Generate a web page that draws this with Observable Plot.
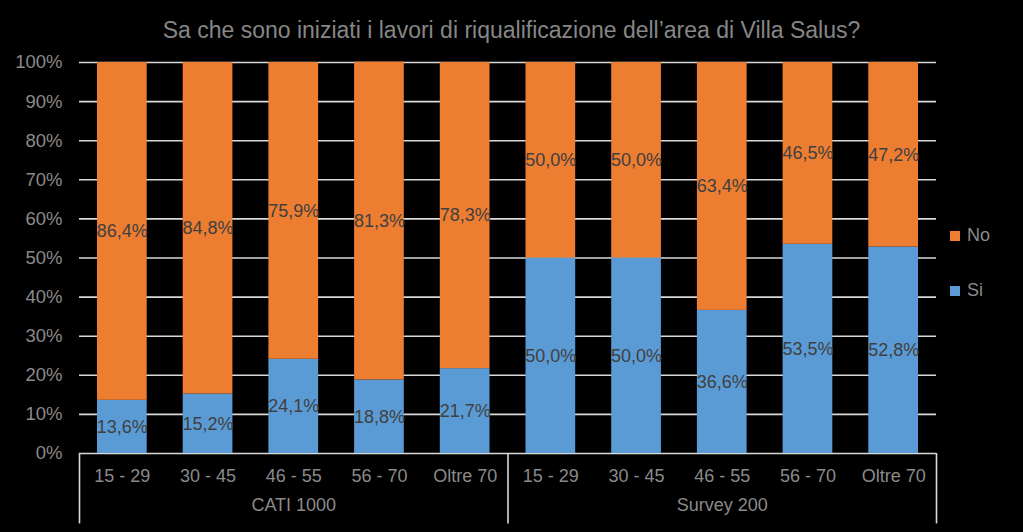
<!DOCTYPE html>
<html>
<head>
<meta charset="utf-8">
<script src="https://cdn.jsdelivr.net/npm/d3@7"></script>
<script src="https://cdn.jsdelivr.net/npm/@observablehq/plot@0.6"></script>
<style>
  html, body { margin: 0; padding: 0; background: #000; }
  #wrap { position: relative; width: 1023px; height: 532px; background: #000; font-family: "Liberation Sans", Arial, sans-serif; }
  #title { position: absolute; left: 0; top: 0; width: 1023px; height: 45px; text-align: center; line-height: 60px; font-size: 23px; color: #868686; }
  #chart { position: absolute; left: 0; top: 45px; }
  .leg { position: absolute; left: 950px; font-size: 18px; color: #8a8a8a; display: flex; align-items: center; }
  .leg span.sw { display: inline-block; width: 10px; height: 10px; margin-right: 7px; }
</style>
</head>
<body>
<div id="wrap">
  <div id="title">Sa che sono iniziati i lavori di riqualificazione dell’area di Villa Salus?</div>
  <div id="chart"></div>
  <div class="leg" style="top:225px"><span class="sw" style="background:#ED7D31"></span>No</div>
  <div class="leg" style="top:280px"><span class="sw" style="background:#5B9BD5"></span>Si</div>
</div>
<script>
const groups = ["CATI 1000", "Survey 200"];
const ages = ["15 - 29", "30 - 45", "46 - 55", "56 - 70", "Oltre 70"];
const answers = ["Si", "No"];
const siCATI = [13.6, 15.2, 24.1, 18.8, 21.7];
const noCATI = [86.4, 84.8, 75.9, 81.3, 78.3];
const siSurvey = [50.0, 50.0, 36.6, 53.5, 52.8];
const noSurvey = [50.0, 50.0, 63.4, 46.5, 47.2];
const yTicks = [0, 0.1, 0.2, 0.3, 0.4, 0.5, 0.6, 0.7, 0.8, 0.9, 1.0];

const series = {
  "CATI 1000": {Si: siCATI, No: noCATI},
  "Survey 200": {Si: siSurvey, No: noSurvey}
};
const rows = [];
for (const a of answers) for (const g of groups) ages.forEach((age, i) => {
  rows.push({key: g + "|" + age, group: g, age, answer: a, value: series[g][a][i] / 100});
});
const keys = groups.flatMap(g => ages.map(a => g + "|" + a));

const W = 1023, H = 487, ML = 79, MR = 87;
const step = (W - ML - MR) / keys.length;
const fmt = v => (v * 100).toFixed(1).replace(".", ",") + "%";
const font = "Liberation Sans, Arial, sans-serif";

const plot = Plot.plot({
  width: W, height: H,
  marginLeft: ML, marginRight: MR, marginTop: 17, marginBottom: 79,
  style: {background: "#000", color: "#8a8a8a", fontFamily: font, fontSize: "18px", overflow: "visible"},
  x: {domain: keys, padding: 0, round: false, axis: null},
  y: {domain: [0, 1], axis: null},
  color: {domain: answers, range: ["#5B9BD5", "#ED7D31"]},
  marks: [
    Plot.gridY(yTicks, {stroke: "#d9d9d9", strokeOpacity: 1, strokeWidth: 1.6}),
    Plot.axisY(yTicks, {tickSize: 0, tickPadding: 17, fontSize: 18.5, fill: "#8a8a8a", tickFormat: d => Math.round(d * 100) + "%", label: null}),
    Plot.barY(rows, Plot.stackY({x: "key", y: "value", z: "answer", order: answers, fill: "answer", insetLeft: 18, insetRight: 18})),
    Plot.text(rows, Plot.stackY({x: "key", y: "value", z: "answer", order: answers, text: d => fmt(d.value), fill: "#404040", fontSize: 18})),
    Plot.axisX(keys, {tickSize: 0, tickPadding: 16, fontSize: 18, fill: "#8a8a8a", tickFormat: d => d.split("|")[1], label: null}),
    Plot.text(groups, {x: g => g + "|" + ages[2], text: g => g, frameAnchor: "bottom", dy: 57, fill: "#8a8a8a", fontSize: 18}),
    Plot.ruleX(groups, {x: g => g + "|" + ages[0], dx: -step / 2, y1: 0, y2: -0.18, stroke: "#d9d9d9", strokeWidth: 1.6}),
    Plot.ruleX([groups[1]], {x: g => g + "|" + ages[4], dx: step / 2, y1: 0, y2: -0.18, stroke: "#d9d9d9", strokeWidth: 1.6})
  ]
});
document.getElementById("chart").appendChild(plot);
</script>
</body>
</html>
